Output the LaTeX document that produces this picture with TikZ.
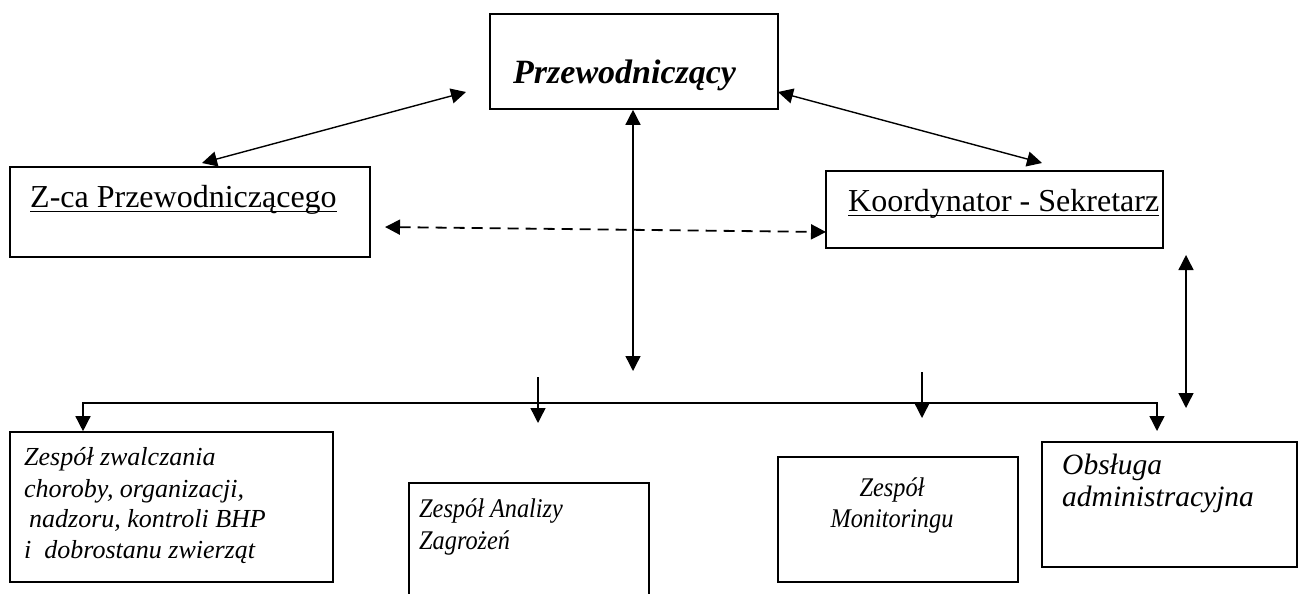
\documentclass[tikz,border=0pt]{standalone}
\usepackage{fontspec}
\setmainfont{Liberation Serif}
\newfontfamily\condserif[FakeStretch=0.9]{Liberation Serif}
\usetikzlibrary{arrows.meta}
\begin{document}
\begin{tikzpicture}[x=1pt,y=-1pt,
  box/.style={draw, line width=1.6pt, inner sep=0pt, rectangle},
  lbl/.style={anchor=base west, inner sep=0pt},
  big/.style={font=\fontsize{32}{38}\selectfont},
  itx/.style={font=\condserif\fontsize{27}{30}\selectfont\itshape},
  itxa/.style={font=\fontsize{26}{30}\selectfont\itshape},
  itxb/.style={font=\fontsize{29.5}{34}\selectfont\itshape},
  tipT/.tip={Triangle[length=15pt,width=15pt]},
  arr/.style={line width=1.4pt, -tipT},
  darr/.style={line width=1.4pt, tipT-tipT},
  dasharr/.style={line width=1.8pt, tipT-tipT, dash pattern=on 11pt off 7pt},
  uline/.style={line width=1.3pt},
]
\useasboundingbox (0,0) rectangle (1298,594);
\clip (0,0) rectangle (1298,594);

% boxes
\node[box, minimum width=288pt, minimum height=95pt] (top) at (634,61.5) {};
\node[box, minimum width=360pt, minimum height=90pt] (zca) at (190,212) {};
\node[box, minimum width=337pt, minimum height=77pt] (koord) at (994.5,209.5) {};
\node[box, minimum width=323pt, minimum height=150pt] (z1) at (171.5,507) {};
\node[box, minimum width=240pt, minimum height=140pt] (z2) at (529,553) {};
\node[box, minimum width=240pt, minimum height=125pt] (z3) at (898,519.5) {};
\node[box, minimum width=255pt, minimum height=125pt] (z4) at (1169.5,504.5) {};

% texts
\node[lbl, font=\fontsize{34}{38}\selectfont\bfseries\itshape] (ttop) at (513,84) {Przewodniczący};
\node[lbl, big] (tzca) at (30,207) {Z-ca Przewodniczącego};
\draw[uline] ([yshift=-4.5pt]tzca.base west) -- ([yshift=-4.5pt]tzca.base east);
\node[lbl, big] (tkoord) at (848,211) {Koordynator - Sekretarz};
\draw[uline] ([yshift=-4.5pt]tkoord.base west) -- ([yshift=-4.5pt]tkoord.base east);

\node[lbl, itxa] (t1a) at (24,465) {Zespół zwalczania};
\node[lbl, itxa] (t1b) at (24,497) {choroby, organizacji,};
\node[lbl, itxa] (t1c) at (29,527) {nadzoru, kontroli BHP};
\node[lbl, itxa] (t1d) at (24,558) {i\ \ dobrostanu zwierząt};

\node[lbl, itx] (t2a) at (419,517) {Zespół Analizy};
\node[lbl, itx] (t2b) at (419,549) {Zagrożeń};

\node[itx, anchor=base, inner sep=0pt] (t3a) at (892,496) {Zespół};
\node[itx, anchor=base, inner sep=0pt] (t3b) at (892,527) {Monitoringu};

\node[lbl, itxb] (t4a) at (1062,474) {Obsługa};
\node[lbl, itxb] (t4b) at (1062,506) {administracyjna};

% connector points
\coordinate (dl1) at (202,163);
\coordinate (dl2) at (466,92);
\coordinate (dr1) at (778,92);
\coordinate (dr2) at (1042,163);
\coordinate (ds1) at (385,227);
\coordinate (ds2) at (826,232);
\coordinate (cv2) at (633,371);
\coordinate (sa1) at (538,377);
\coordinate (sa2) at (538,423);
\coordinate (sb1) at (922,372);
\coordinate (sb2) at (922,418);
\coordinate (bl) at (83,403);
\coordinate (br) at (1157,403);
\coordinate (brEnd) at (1157,431);
\coordinate (rv1) at (1186,255);
\coordinate (rv2) at (1186,408);

% connectors
\draw[darr] (dl1) -- (dl2);
\draw[darr] (dr1) -- (dr2);
\draw[dasharr] (ds1) -- (ds2);
\draw[darr] (top.south -| cv2) -- (cv2);
\draw[arr] (sa1) -- (sa2);
\draw[arr] (sb1) -- (sb2);
\draw[darr] (z1.north -| bl) -- (bl) -- (br) -- (brEnd);
\draw[darr] (rv1) -- (rv2);
\end{tikzpicture}
\end{document}
